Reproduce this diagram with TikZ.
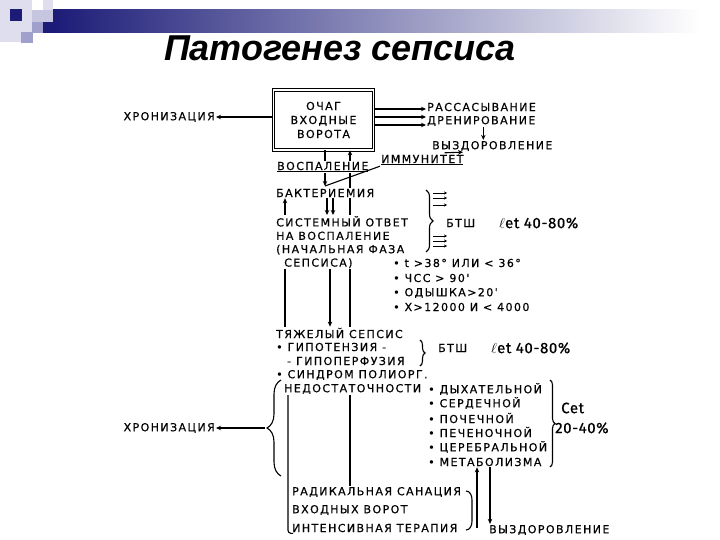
\documentclass[tikz,border=0pt]{standalone}
\usepackage{fontspec}
\setmainfont{Liberation Sans}
\newfontfamily\handfont[LetterSpace=13,FakeBold=0.6]{DejaVu Sans}
\newfontfamily\letfont[LetterSpace=4,FakeBold=0.6]{Fira Sans}
\usetikzlibrary{arrows.meta, positioning, calc, decorations.pathreplacing}

\definecolor{navy}{RGB}{28,28,120}
\definecolor{lavender}{RGB}{160,160,205}
\definecolor{palelav}{RGB}{222,222,238}

\begin{document}
\begin{tikzpicture}[x=1pt, y=-1pt,
        lbl/.style={font=\handfont\fontsize{11}{13.4}\selectfont, inner sep=1pt, anchor=west},
        letlbl/.style={font=\letfont\fontsize{15}{14}\selectfont, inner sep=1pt, anchor=west},
        arr/.style={-{Stealth[length=5pt, width=4.5pt]}, line width=1.1pt},
        ln/.style={line width=1.1pt},
        brc/.style={decorate, decoration={brace, amplitude=#1}, line width=1.1pt}
    ]
    \useasboundingbox (0,0) rectangle (720,540);

    % header
    \fill[palelav] (0,0) rectangle (32,42);
    \fill[palelav] (43,0) rectangle (53,10);
    \fill[navy] (10,9) rectangle (22,21);
    \fill[lavender!60] (32,10) rectangle (53,22);
    \fill[lavender] (32,22) rectangle (43,33);
    \fill[lavender] (21,32) rectangle (33,43);
    \fill[navy] (43,22) rectangle (53,33);
    \shade[left color=navy, right color=white] (53,10) rectangle (700,33);
    \node[font=\bfseries\itshape\fontsize{36}{40}\selectfont] (title) at (340,48) {Патогенез сепсиса};

    % focus
    \node[draw, double, double distance=1.6pt, line width=0.8pt, minimum width=100, minimum height=60,
        align=center, font=\handfont\fontsize{11}{14}\selectfont] (focus) at (323.5,120) {ОЧАГ\\ВХОДНЫЕ\\ВОРОТА};
    \node[lbl, anchor=east] (chron1) at (216,117) {ХРОНИЗАЦИЯ};
    \node[lbl] (resorb) at (426,107) {РАССАСЫВАНИЕ};
    \node[lbl] (drain) at (426,121) {ДРЕНИРОВАНИЕ};
    \node[lbl] (recov1) at (431,146) {ВЫЗДОРОВЛЕНИЕ};
    \node[lbl] (immun) at (380,160) {\underline{ИММУНИТЕТ}};
    \node[lbl] (infl) at (276,167) {\underline{ВОСПАЛЕНИЕ}};
    \node[lbl] (bact) at (275,193) {БАКТЕРИЕМИЯ};

    \draw[arr] (focus.west |- chron1) -- (chron1);
    \foreach \dy in {11,3,-5}
        \draw[arr] ([yshift=\dy pt]focus.east) -- ([yshift=\dy pt]focus.east -| resorb.west);
    \draw[arr] ([xshift=2pt]drain.south) -- ([xshift=2pt]drain.south |- recov1.north);
    \draw[arr] ([xshift=-20pt, yshift=1pt]immun.north east) -- ([xshift=32pt]recov1.south west);

    \coordinate (tipA) at (325,186);
    \coordinate (colL) at (285,0);
    \coordinate (colM) at (330,0);
    \coordinate (colB) at (350,0);
    \draw[ln] (focus.south -| tipA) -- (infl.north -| tipA);
    \draw[arr] (infl.south -| tipA) -- (tipA);
    \draw[ln] (immun.south west) -- (tipA);
    \draw[arr] (infl.north -| colB) -- (focus.south -| colB);
    \draw[ln] (bact.north -| colB) -- (infl.south -| colB);

    % systemic response
    \node[lbl, align=left, anchor=north west] (sysr) at (275,215)
        {СИСТЕМНЫЙ ОТВЕТ\\НА ВОСПАЛЕНИЕ\\(НАЧАЛЬНАЯ ФАЗА\\\hspace*{8pt}СЕПСИСА)};
    \draw[arr] (sysr.north -| colL) -- (bact.south -| colL);
    \foreach \dx in {-3,3}
        \draw[arr] ($(bact.south -| colM)+(\dx,0)$) -- ($(sysr.north -| colM)+(\dx,0)$);
    \draw[ln] (sysr.north -| colB) -- (bact.south -| colB);

    \draw[brc=7pt] (426,190) -- (426,252);
    \foreach \y in {193,198,205,236,241,246}
        \draw[-{Stealth[length=3pt, width=3pt]}, line width=0.8pt] (433,\y) -- ++(14,0);
    \node[lbl] (btsh1) at (445,223) {БТШ};
    \node[letlbl] (let1) at (498,223) {$\ell$et 40-80\%};

    \node[lbl] (temp) at (392,263) {• t >38° ИЛИ < 36°};
    \node[lbl] (heart) at (392,278) {• ЧСС > 90'};
    \node[lbl] (breath) at (392,293) {• ОДЫШКА>20'};
    \node[lbl] (leuk) at (392,307) {• Х>12000 И < 4000};

    % severe sepsis
    \node[lbl] (severe) at (275,333) {ТЯЖЕЛЫЙ СЕПСИС};
    \node[lbl] (hypot) at (275,347) {• ГИПОТЕНЗИЯ -};
    \node[lbl] (hypop) at (286,361) {- ГИПОПЕРФУЗИЯ};
    \node[lbl] (mods) at (275,375) {• СИНДРОМ ПОЛИОРГ.};
    \node[lbl] (insuf) at (283,389) {НЕДОСТАТОЧНОСТИ};
    \draw[ln] (sysr.south -| colL) -- (severe.north -| colL);
    \draw[arr] (sysr.south -| colM) -- (severe.north -| colM);
    \draw[ln] (sysr.south -| colB) -- (severe.north -| colB);

    \draw[brc=5pt] (420,340) -- (420,366);
    \node[lbl] (btsh2) at (437,348) {БТШ};
    \node[letlbl] (let2) at (490,348) {$\ell$et 40-80\%};

    \node[lbl] (resp) at (427,389) {• ДЫХАТЕЛЬНОЙ};
    \node[lbl] (card) at (427,403) {• СЕРДЕЧНОЙ};
    \node[lbl] (renal) at (427,418) {• ПОЧЕЧНОЙ};
    \node[lbl] (hepat) at (427,432) {• ПЕЧЕНОЧНОЙ};
    \node[lbl] (cereb) at (427,447) {• ЦЕРЕБРАЛЬНОЙ};
    \node[lbl] (metab) at (427,462) {• МЕТАБОЛИЗМА};
    \draw[brc=5pt] (550,380) -- (550,467);
    \node[letlbl] (cet) at (560,408) {Cet};
    \node[letlbl] (perc) at (554,428) {20-40\%};

    \draw[brc=14pt] (281,476) -- (281,380);
    \coordinate (chrtip) at (265,428);
    \node[lbl, anchor=east] (chron2) at (216,428) {ХРОНИЗАЦИЯ};
    \draw[arr] (chrtip) -- (chron2);

    % treatment
    \node[lbl] (radical) at (291,492) {РАДИКАЛЬНАЯ САНАЦИЯ};
    \node[lbl] (gates) at (291,510) {ВХОДНЫХ ВОРОТ};
    \node[lbl] (therapy) at (291,528) {ИНТЕНСИВНАЯ ТЕРАПИЯ};
    \node[lbl] (recov2) at (488,530) {ВЫЗДОРОВЛЕНИЕ};
    \coordinate (colL2) at (288,0);
    \coordinate (colR) at (477,0);
    \coordinate (colR2) at (490,0);
    \draw[ln, rounded corners=3pt] (insuf.south -| colL2) |- ($(therapy.south west)+(2,0)$);
    \draw[ln] (insuf.south -| colB) -- (radical.north -| colB);
    \draw[ln] (466,491) to[out=0, in=90] (472,500) -- (472,521) to[out=-90, in=0] (466,530);
    \draw[arr, line width=1.4pt] (therapy.east -| colR) -- (metab.south -| colR);
    \draw[arr] (metab.south -| colR2) -- (recov2.north -| colR2);
\end{tikzpicture}
\end{document}
